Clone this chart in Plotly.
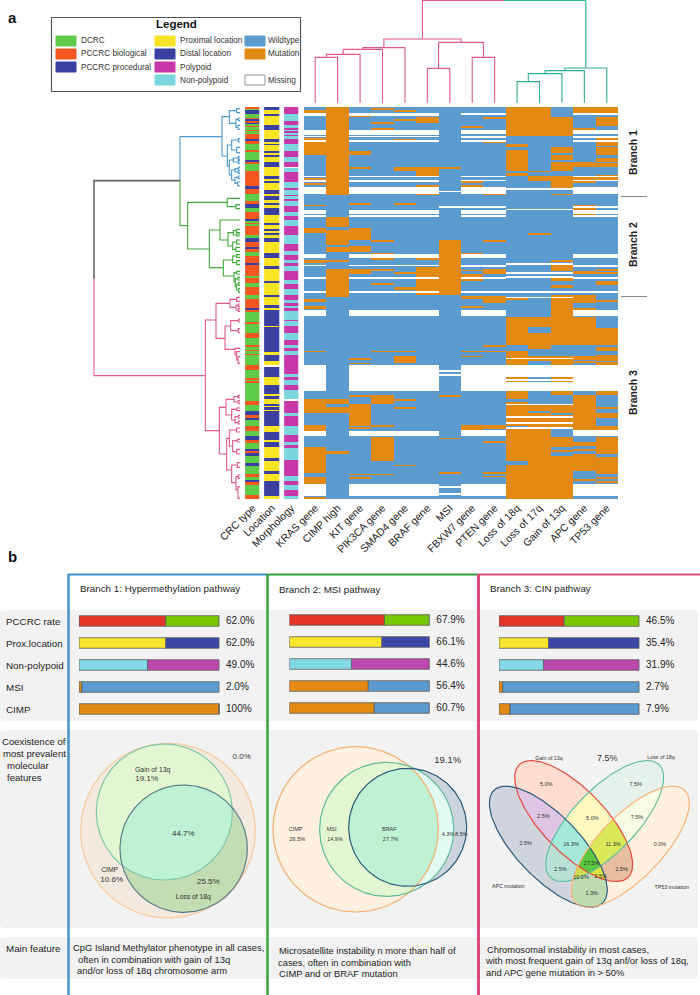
import numpy as np
import plotly.graph_objects as go

W, H = 700, 995
FONT = "Liberation Sans"
WILD, MUT = "#5B9BD0", "#E28A13"
GREEN_C, ORANGE_C, BLUE_C = "#5FCB4B", "#F2581F", "#3A3FA0"
YEL_C, MAG_C, CYAN_C = "#F8E324", "#C837A8", "#7CD6DE"

# ---------- panel a : case order positions (upper half, lower half) ----------
COLUMNS = ["KRAS gene", "CIMP high", "KIT gene", "PIK3CA gene", "SMAD4 gene", "BRAF gene", "MSI",
           "FBXW7 gene", "PTEN gene", "Loss of 18q", "Loss of 17q", "Gain of 13q", "APC gene", "TP53 gene"]
ANNOT_COLUMNS = ["CRC type", "Location", "Morphology"]
N_SLICES = 392

KRAS_UP = [(62,70),(146,150),(158,195),(264,270),(279,285),(345,348),(414,430),(510,520),(628,638),(650,658),(676,680)]
KRAS_LO = [(0,8),(20,28),(46,50),(153,158),(298,340),(377,393),(442,520),(533,553),(591,597)]
CIMP_UP = [(51,317),(383,413),(420,467),(473,488),(510,516),(538,622)]
CIMP_LO = [(298,312),(322,340),(453,463)]
KIT_UP = [(76,82),(183,195),(232,237),(340,345),(414,452),(468,488),(538,552)]
KIT_LO = [(175,180),(190,194),(287,291),(313,378),(382,388),(522,527),(533,538)]
PIK3CA_UP = [(56,61),(98,104),(114,120),(452,457),(490,510),(538,543),(580,585)]
PIK3CA_LO = [(153,158),(287,312),(377,382),(413,485),(522,527)]
SMAD4_UP = [(61,66),(87,93),(148,153),(232,243),(340,345),(548,553),(592,600)]
SMAD4_LO = [(153,158),(168,190),(298,303),(322,328),(495,500)]
BRAF_UP = [(82,99),(232,258),(287,291),(308,315),(505,510),(532,616)]
BRAF_LO = []
MSI_UP = [(232,237),(452,617)]
MSI_LO = [(287,291),(414,419),(517,522)]
FBXW7_UP = [(108,114),(275,281),(285,291),(490,493),(540,544),(553,574),(618,628),(650,654)]
FBXW7_LO = [(18,23),(153,158),(168,173),(377,392)]
PTEN_UP = [(82,88),(155,160),(312,317),(452,457),(538,553),(618,640)]
PTEN_LO = [(0,8),(137,143),(153,158),(377,387),(425,430),(517,522),(528,533)]
L18Q_UP = [(51,140),(162,173),(180,243),(250,258),(622,632),(683,690)]
L18Q_LO = [(52,137),(153,195),(232,237),(243,248),(275,298),(307,378),(383,485),(495,597)]
L17Q_UP = [(51,140),(243,248),(260,275),(430,435),(683,690)]
L17Q_LO = [(52,83),(100,148),(168,185),(317,335),(340,597)]
G13Q_UP = [(82,140),(173,190),(196,210),(216,243),(258,296),(312,317),(510,516),(527,543),(564,574),(585,596),(617,690)]
G13Q_LO = [(0,137),(168,195),(232,237),(243,248),(275,287),(317,340),(345,385),(413,442),(452,458),(468,597)]
APC_UP = [(51,71),(114,120),(216,232),(263,270),(275,281),(345,350),(354,362),(372,377),(543,552),(617,640),(654,660),(683,690)]
APC_LO = [(0,8),(24,29),(52,137),(168,180),(185,190),(287,392),(426,440),(448,454),(464,515),(538,543)]
TP53_UP = [(51,71),(82,108),(140,150),(155,168),(173,195),(205,216),(221,232),(255,258),(263,270),(538,543),(548,553),(574,585)]
TP53_LO = [(0,8),(84,137),(143,153),(165,185),(188,195),(275,287),(323,328),(340,356),(378,392),(413,462),(472,522),(533,538),(544,550)]

GAPS_A_UP = [(71,78),(120,135),(138,143),(150,157),(258,263),(272,278),(291,312),(362,372),(377,382),(493,505),(525,530),(562,569),(605,611),(660,678)]
GAPS_A_LO = [(30,46),(195,275),(393,410),(553,590)]
GAPS_B_UP = [(71,77),(120,133),(138,146),(152,158),(258,263),(270,275),(291,312),(350,355),(362,372),(377,382),(493,505),(527,533),(562,569),(605,611),(660,678)]
GAPS_B_LO = [(30,46),(195,275),(392,410),(553,590)]
GAPS_MSI_UP = [(303,308),(350,355)]
GAPS_MSI_LO = [(212,218),(222,228),(560,565),(580,585)]
GAPS_CHR_UP = [(296,300),(357,360),(521,525),(548,552),(558,565),(605,611),(622,625)]
GAPS_CHR_LO = [(174,178),(195,232),(237,243),(248,275),(312,317),(350,356),(367,373),(383,387)]
GAPS_NONE = []

CRC_UP = [(57,'O'),(62,'G'),(72,'B'),(84,'G'),(88,'O'),(94,'B'),(100,'O'),(104,'B'),(108,'G'),(113,'O'),(120,'G'),(124,'O'),(132,'G'),(148,'O'),(153,'B'),(163,'O'),(180,'G'),(186,'O'),(212,'G'),(218,'B'),(222,'O'),(243,'G'),(290,'O'),(298,'B'),(312,'O'),(334,'G'),(344,'O'),(356,'B'),(366,'G'),(388,'O'),(394,'B'),(400,'G'),(404,'O'),(410,'G'),(436,'O'),(446,'G'),(458,'B'),(473,'O'),(478,'B'),(488,'O'),(500,'G'),(520,'O'),(526,'B'),(558,'O'),(565,'G'),(580,'O'),(592,'G'),(615,'O'),(628,'G'),(630,'O')]
CRC_LO = [(24,'O'),(30,'B'),(36,'O'),(66,'G'),(72,'O'),(100,'G'),(115,'O'),(137,'G'),(142,'O'),(150,'G'),(154,'O'),(162,'G'),(166,'O'),(196,'G'),(210,'O'),(235,'G'),(240,'O'),(245,'G'),(250,'O'),(303,'G'),(317,'O'),(335,'G'),(345,'B'),(355,'O'),(360,'B'),(380,'G'),(395,'O'),(410,'G'),(420,'B'),(430,'O'),(448,'G'),(455,'B'),(460,'O'),(470,'B'),(490,'G'),(500,'B'),(522,'G'),(533,'O'),(540,'G'),(548,'B'),(555,'O'),(585,'G'),(597,'O')]
LOC_UP = [(62,'D'),(72,'Y'),(78,'D'),(105,'Y'),(122,'D'),(147,'Y'),(157,'D'),(162,'Y'),(167,'D'),(185,'Y'),(190,'D'),(195,'Y'),(202,'D'),(217,'Y'),(232,'D'),(260,'Y'),(268,'D'),(273,'Y'),(281,'D'),(302,'Y'),(312,'D'),(318,'Y'),(330,'D'),(340,'Y'),(345,'D'),(355,'Y'),(376,'D'),(400,'Y'),(406,'D'),(418,'Y'),(425,'D'),(430,'Y'),(436,'D'),(445,'Y'),(458,'D'),(490,'Y'),(505,'D'),(530,'Y'),(538,'D'),(573,'Y'),(580,'D'),(615,'Y'),(622,'D'),(630,'Y')]
LOC_LO = [(15,'Y'),(25,'D'),(30,'Y'),(78,'D'),(83,'Y'),(158,'D'),(165,'Y'),(185,'D'),(195,'Y'),(202,'W'),(232,'D'),(255,'Y'),(282,'D'),(290,'Y'),(297,'D'),(312,'Y'),(318,'D'),(322,'Y'),(330,'D'),(335,'Y'),(378,'D'),(398,'Y'),(420,'D'),(428,'Y'),(442,'D'),(475,'Y'),(485,'D'),(515,'Y'),(522,'D'),(545,'Y'),(590,'D'),(597,'Y')]
MORPH_UP = [(72,'M'),(93,'C'),(105,'M'),(115,'C'),(120,'M'),(125,'C'),(130,'M'),(135,'C'),(140,'M'),(148,'C'),(163,'M'),(185,'C'),(202,'M'),(217,'C'),(232,'M'),(236,'W'),(248,'C'),(276,'M'),(296,'C'),(302,'M'),(315,'C'),(320,'M'),(327,'C'),(335,'M'),(350,'C'),(366,'M'),(380,'C'),(390,'M'),(410,'C'),(435,'M'),(462,'C'),(485,'M'),(497,'C'),(510,'M'),(520,'C'),(530,'M'),(543,'C'),(570,'M'),(583,'C'),(598,'M'),(617,'C'),(630,'M')]
MORPH_LO = [(10,'C'),(20,'M'),(25,'C'),(35,'M'),(60,'C'),(65,'M'),(78,'C'),(100,'M'),(120,'C'),(135,'M'),(145,'C'),(155,'M'),(165,'C'),(222,'M'),(232,'C'),(240,'M'),(255,'C'),(270,'M'),(298,'C'),(303,'W'),(340,'M'),(350,'C'),(380,'M'),(405,'C'),(428,'M'),(435,'C'),(445,'M'),(480,'C'),(530,'M'),(545,'C'),(555,'M'),(570,'C'),(590,'M'),(597,'C')]

# dendrograms: (height, position, child, child); a plain number is a leaf at that position
LEFT_LEAF = 450
LEFT_ROOT_H, LEFT_MID_H = 12, 270
LEFT_MID_Y, LEFT_PINK_Y = 272, 857
LEFT_BLUE = (396,140,
  (418,80,(440,62,56,68),(438,100,(445,88,84,92),(444,112,106,118))),
  (412,198,(425,165,(445,150,146,156),(440,180,172,188)),
   (418,228,(430,210,(445,204,200,208),(445,216,212,220)),
    (425,255,(435,240,(445,236,232,240),(445,246,243,250)),(435,270,(445,262,258,266),(443,280,276,288))))))
LEFT_GREEN = (293,407,
  (412,337,325,(438,350,344,356)),
  (358,477,
   (390,420,390,(414,450,(430,428,(440,422,418,428),(440,435,432,438)),(428,468,(440,456,450,462),(438,478,472,484)))),
   (400,533,(428,510,(440,498,494,502),(440,518,512,524)),
    (432,558,(440,548,544,552),(436,575,(444,566,562,570),(440,590,(446,582,578,586),(446,600,595,607)))))))
LEFT_PINK = (346,857,
  (378,690,
   (420,640,(440,628,622,634),(438,652,(445,646,642,650),(445,660,656,664))),
   (405,745,(422,708,(446,692,688,696),(445,722,716,728)),(435,778,775,(440,795,785,(444,810,800,820))))),
  (388,1022,
   (408,952,(432,928,(445,920,916,924),(445,936,932,940)),(425,975,(440,958,954,962),(435,990,(445,980,976,984),(445,998,994,1002)))),
   (410,1092,(418,1045,(440,1020,1014,1026),(428,1068,(442,1052,1048,1056),(440,1085,1078,1092))),
    (425,1140,(442,1125,1118,1132),(438,1178,(445,1160,1155,1165),(444,1200,1190,1225))))))
TOP_BASE = 308
TOP_ROOT_H = 1
TOP_PINK = (117,(143,(148,(163,(172,0,1),2),3),4),(127,(205,5,6),(172,7,8)))
TOP_TEAL = (204,(212,(221,(245,9,10),11),12),13)

# ---------- panel b ----------
ROW_LABELS = ["PCCRC rate", "Prox.location", "Non-polypoid", "MSI", "CIMP"]
BRANCH1_VALUES = [62.0, 62.0, 49.0, 2.0, 100.0]
BRANCH2_VALUES = [67.9, 66.1, 44.6, 56.4, 60.7]
BRANCH3_VALUES = [46.5, 35.4, 31.9, 2.7, 7.9]
BRANCH1_TEXT = ["62.0%", "62.0%", "49.0%", "2.0%", "100%"]
BRANCH2_TEXT = ["67.9%", "66.1%", "44.6%", "56.4%", "60.7%"]
BRANCH3_TEXT = ["46.5%", "35.4%", "31.9%", "2.7%", "7.9%"]
BAR_LEFT_COLORS = ["#E5352A", "#F8E52E", "#82D8E4", MUT, MUT]
BAR_RIGHT_COLORS = ["#77C800", "#3B48A5", "#BC4AAE", WILD, WILD]

# Venn outlines: centre x, centre y, long radius, short radius, tilt in degrees, colour
V1_SETS = [(324,332,262,262,0,"#F8C99B"), (313,276,204,204,0,"#7FC8A9"), (371,386,191,191,0,"#5C7F8A")]
V2_SETS = [(257,328,248,248,0,"#F5AE6A"), (350,328,201,201,0,"#5FBB9C"), (413,322,177,177,0,"#2C5A78")]
V3_SETS = [(311,303,235,95,46,"#E8483F"), (404,303,235,95,-46,"#64BFA0"), (235,380,235,95,46,"#2F5C78"), (481,380,235,95,-46,"#FBB377")]
V1_FILLS = {1:"#F3E9DF", 2:"#E2F7D1", 3:"#E2F7D1", 4:"#C3DCB3", 5:"#C3DCB3", 6:"#BFF2D5", 7:"#BFF2D5"}
V2_FILLS = {1:"#FFF0E2", 2:"#E2FBF2", 3:"#E2F7D1", 4:"#CDD3DD", 5:"#CDD3DD", 6:"#E2FBF2", 7:"#BFF2D5"}
V3_FILLS = {1:"#FFDDD0", 2:"#E5F2EC", 3:"#FDF8BE", 4:"#D0D4DD", 5:"#DFC4E4", 6:"#B8E0D5", 7:"#A5EAD9",
            8:"#FFF0E0", 9:"#E5BFA0", 10:"#F9FCE5", 11:"#D9E95A", 12:"#BDDAB0", 13:"#D9E33F", 14:"#CFDC55", 15:"#5BC63F"}
V1_TEXT = [("Gain of 13q",278,152,6.8),("19.1%",260,178,8),("44.7%",370,342,8),("0.0%",545,112,8),("CIMP",149,452,6.8),
           ("10.6%",155,480,8),("25.5%",445,487,8),("Loss of 18q",400,533,6.8)]
V2_TEXT = [("CIMP",77,329,5.5),("26.5%",82,358,5.5),("MSI",185,328,5.5),("14.9%",195,358,5.5),("BRAF",358,328,5.5),("27.7%",362,358,5.5),
           ("4.3%",534,344,5.5),("8.5%",574,344,5.5),("19.1%",533,121,9.5)]
V3_TEXT = [("Gain of 13q",237,115,5.3),("7.5%",412,116,9),("Loss of 18q",573,112,5.3),("5.0%",229,195,5.5),("7.5%",497,193,5.5),("2.5%",220,291,5.5),
           ("5.0%",367,295,5.5),("7.5%",501,292,5.5),("2.5%",167,372,5.5),("16.3%",303,374,5.5),("11.3%",429,375,5.5),("0.0%",570,373,5.5),
           ("2.5%",271,449,5.5),("27.5%",365,432,5.5),("2.5%",455,449,5.5),("10.0%",333,474,5.5),("2.5%",392,470,5.5),("APC mutation",115,501,5.3),
           ("1.3%",365,522,5.5),("TP53 mutation",605,502,5.3)]

# ---------- helpers ----------
fig = go.Figure()
layout_axes = {}
annotations = []
shapes = []
_ax = [0]

def fx(px): return px / W
def fy(py): return 1 - py / H

def new_axes(x0, x1, y0, y1, xr, yr, xopts=None, yopts=None):
    _ax[0] += 1
    n = _ax[0]
    sx = "" if n == 1 else str(n)
    xa = dict(domain=[fx(x0), fx(x1)], range=xr, visible=False, fixedrange=True, anchor=f"y{sx}", showgrid=False, zeroline=False)
    ya = dict(domain=[fy(y1), fy(y0)], range=yr, visible=False, fixedrange=True, anchor=f"x{sx}", showgrid=False, zeroline=False)
    xa.update(xopts or {})
    ya.update(yopts or {})
    layout_axes[f"xaxis{sx}"] = xa
    layout_axes[f"yaxis{sx}"] = ya
    return f"x{sx}", f"y{sx}"

def note(px, py, text, size=9.5, anchor="left", color="#222", angle=0, bold=False):
    annotations.append(dict(xref="paper", yref="paper", x=fx(px), y=fy(py), text=f"<b>{text}</b>" if bold else text,
                            showarrow=False, xanchor=anchor, yanchor="middle", borderpad=0, textangle=angle,
                            font=dict(family=FONT, size=size, color=color)))

def box(x0, y0, x1, y1, fill=None, line=None, lw=1, layer="below"):
    shapes.append(dict(type="rect", xref="paper", yref="paper", x0=fx(x0), x1=fx(x1), y0=fy(y0), y1=fy(y1),
                       fillcolor=fill or "rgba(0,0,0,0)", line=dict(color=line or "rgba(0,0,0,0)", width=lw), layer=layer))

def rule(x0, y0, x1, y1, color, lw=1, layer="above"):
    shapes.append(dict(type="line", xref="paper", yref="paper", x0=fx(x0), x1=fx(x1), y0=fy(y0), y1=fy(y1),
                       line=dict(color=color, width=lw), layer=layer))

def rounded(x0, y0, x1, y1, r, fill):
    a, b, c, d = x0, x1, y0, y1
    p = (f"M {fx(a+r)} {fy(c)} L {fx(b-r)} {fy(c)} Q {fx(b)} {fy(c)} {fx(b)} {fy(c+r)} L {fx(b)} {fy(d-r)} "
         f"Q {fx(b)} {fy(d)} {fx(b-r)} {fy(d)} L {fx(a+r)} {fy(d)} Q {fx(a)} {fy(d)} {fx(a)} {fy(d-r)} "
         f"L {fx(a)} {fy(c+r)} Q {fx(a)} {fy(c)} {fx(a+r)} {fy(c)} Z")
    shapes.append(dict(type="path", xref="paper", yref="paper", path=p, fillcolor=fill, line=dict(width=0), layer="below"))

def slice_range(a, b):
    return (a - 51) // 3, max((b - 51) // 3, (a - 51) // 3 + 1)

def mark(col, ivs, off, val):
    for a, b in ivs:
        s, e = slice_range(a + off, b + off)
        col[max(s, 0):e] = val

def gene_column(up, lo, gaps_up, gaps_lo):
    col = np.full(N_SLICES, 0.25)
    mark(col, up, 0, 0.75)
    mark(col, lo, 630, 0.75)
    mark(col, gaps_up, 0, np.nan)
    mark(col, gaps_lo, 630, np.nan)
    return col

def annot_column(up, lo, codes):
    col = np.full(N_SLICES, np.nan)
    for runs, off, start in ((up, 0, 51), (lo, 630, 0)):
        prev = start
        for end, c in runs:
            s, e = slice_range(prev + off, end + off)
            col[max(s, 0):e] = codes[c]
            prev = end
    return col

def stepped(colors):
    n = len(colors)
    out = []
    for i, c in enumerate(colors):
        out += [[i / n, c], [(i + 1) / n, c]]
    return out

# ---------- background panels ----------
PANEL = "#F2F2F2"
rounded(0, 610, 698, 721, 4, PANEL)
rounded(0, 730, 698, 928, 4, PANEL)
rounded(0, 937, 698, 979, 4, PANEL)

# ---------- annotation strips ----------
CODES_CRC = {'G': 0.5, 'O': 1.5, 'B': 2.5, 'Y': 3.5, 'D': 2.5, 'M': 4.5, 'C': 5.5, 'W': np.nan}
ANNOT_SCALE = stepped([GREEN_C, ORANGE_C, BLUE_C, YEL_C, MAG_C, CYAN_C])
xa, ya = new_axes(243.1, 300.9, 107, 499, [-0.5, 2.5], [N_SLICES - 0.5, -0.5],
                  dict(visible=True, showline=False, ticks="", tickmode="array", tickvals=[0, 1, 2], ticktext=ANNOT_COLUMNS,
                       tickangle=-45, tickfont=dict(family=FONT, size=10.5, color="#222")))
z_annot = np.column_stack([annot_column(CRC_UP, CRC_LO, CODES_CRC), annot_column(LOC_UP, LOC_LO, CODES_CRC),
                           annot_column(MORPH_UP, MORPH_LO, CODES_CRC)])
fig.add_trace(go.Heatmap(z=z_annot, x=[0, 1, 2], y=np.arange(N_SLICES), xaxis=xa, yaxis=ya, zmin=0, zmax=6, colorscale=ANNOT_SCALE,
                         showscale=False, hoverinfo="skip", xgap=4.8))

# ---------- mutation matrix ----------
MAT_X0, MAT_X1 = 304, 618
xm, ym = new_axes(MAT_X0, MAT_X1, 107, 499, [-0.5, 13.5], [N_SLICES - 0.5, -0.5],
                  dict(visible=True, showline=False, ticks="", tickmode="array", tickvals=list(range(14)), ticktext=COLUMNS,
                       tickangle=-45, tickfont=dict(family=FONT, size=10.5, color="#222")))
z_mat = np.column_stack([
    gene_column(KRAS_UP, KRAS_LO, GAPS_A_UP, GAPS_A_LO),
    gene_column(CIMP_UP, CIMP_LO, GAPS_NONE, GAPS_NONE),
    gene_column(KIT_UP, KIT_LO, GAPS_A_UP, GAPS_A_LO),
    gene_column(PIK3CA_UP, PIK3CA_LO, GAPS_A_UP, GAPS_A_LO),
    gene_column(SMAD4_UP, SMAD4_LO, GAPS_A_UP, GAPS_A_LO),
    gene_column(BRAF_UP, BRAF_LO, GAPS_A_UP, GAPS_A_LO),
    gene_column(MSI_UP, MSI_LO, GAPS_MSI_UP, GAPS_MSI_LO),
    gene_column(FBXW7_UP, FBXW7_LO, GAPS_B_UP, GAPS_B_LO),
    gene_column(PTEN_UP, PTEN_LO, GAPS_B_UP, GAPS_B_LO),
    gene_column(L18Q_UP, L18Q_LO, GAPS_CHR_UP, GAPS_CHR_LO),
    gene_column(L17Q_UP, L17Q_LO, GAPS_CHR_UP, GAPS_CHR_LO),
    gene_column(G13Q_UP, G13Q_LO, GAPS_CHR_UP, GAPS_CHR_LO),
    gene_column(APC_UP, APC_LO, GAPS_B_UP, GAPS_B_LO),
    gene_column(TP53_UP, TP53_LO, GAPS_B_UP, GAPS_B_LO),
])
fig.add_trace(go.Heatmap(z=z_mat, x=list(range(14)), y=np.arange(N_SLICES), xaxis=xm, yaxis=ym, zmin=0, zmax=1,
                         colorscale=stepped([WILD, MUT]), showscale=False, hoverinfo="skip"))

# ---------- left dendrogram ----------
xl, yl = new_axes(90, 250, 90, 530, [0, 480], [1320, 0])

def left_segments(node, xs, ys):
    if not isinstance(node, tuple):
        return LEFT_LEAF, node
    h, y, a, b = node
    ca = left_segments(a, xs, ys)
    cb = left_segments(b, xs, ys)
    xs += [ca[0], h, h, cb[0], None]
    ys += [ca[1], ca[1], cb[1], cb[1], None]
    return h, y

def line_trace(xs, ys, color, xaxis, yaxis, width=1.1):
    fig.add_trace(go.Scatter(x=xs, y=ys, mode="lines", line=dict(color=color, width=width), xaxis=xaxis, yaxis=yaxis,
                             hoverinfo="skip", connectgaps=False))

C_BLUE, C_GREEN, C_PINK, C_GREY = "#4A97CF", "#3FA93A", "#DD5A85", "#666666"
for tree, col in ((LEFT_BLUE, C_BLUE), (LEFT_GREEN, C_GREEN), (LEFT_PINK, C_PINK)):
    xs, ys = [], []
    h, y = left_segments(tree, xs, ys)
    if tree is LEFT_PINK:
        xs += [LEFT_ROOT_H, h, None, LEFT_ROOT_H, LEFT_ROOT_H]
        ys += [y, y, None, y, (LEFT_MID_Y + LEFT_PINK_Y) / 2]
    else:
        xs += [LEFT_MID_H, h, None, LEFT_MID_H, LEFT_MID_H]
        ys += [y, y, None, y, LEFT_MID_Y]
    line_trace(xs, ys, col, xl, yl)
line_trace([LEFT_MID_H, LEFT_ROOT_H, LEFT_ROOT_H], [LEFT_MID_Y, LEFT_MID_Y, (LEFT_MID_Y + LEFT_PINK_Y) / 2], C_GREY, xl, yl, 1.6)

# ---------- top dendrogram ----------
xt, yt = new_axes(MAT_X0, MAT_X1, 0, 110, [-0.5, 13.5], [330, 0])

def top_segments(node, xs, ys):
    if not isinstance(node, tuple):
        return float(node), TOP_BASE
    h, a, b = node
    xa_, ya_ = top_segments(a, xs, ys)
    xb_, yb_ = top_segments(b, xs, ys)
    xs += [xa_, xa_, xb_, xb_, None]
    ys += [ya_, h, h, yb_, None]
    return (xa_ + xb_) / 2, h

C_TEAL = "#2FAE92"
xs, ys = [], []
xp, hp = top_segments(TOP_PINK, xs, ys)
xs2, ys2 = [], []
xq, hq = top_segments(TOP_TEAL, xs2, ys2)
xmid = (xp + xq) / 2
xs += [xp, xp, xmid]
ys += [hp, TOP_ROOT_H, TOP_ROOT_H]
xs2 += [xq, xq, xmid]
ys2 += [hq, TOP_ROOT_H, TOP_ROOT_H]
line_trace(xs, ys, C_PINK, xt, yt)
line_trace(xs2, ys2, C_TEAL, xt, yt)

# ---------- bars ----------
def bar_panel(x0, y0, values, texts):
    x, y = new_axes(x0, x0 + 183, y0, y0 + 110, [0, 130.7], [4.5, -0.5])
    rows = list(range(5))
    rest = [100 - v for v in values]
    fig.add_trace(go.Bar(x=values, y=rows, orientation="h", width=0.48, marker=dict(color=BAR_LEFT_COLORS, line=dict(color="#5c5c5c", width=0.8)),
                         xaxis=x, yaxis=y, hoverinfo="skip", base=0))
    fig.add_trace(go.Bar(x=rest, y=rows, orientation="h", width=0.48, marker=dict(color=BAR_RIGHT_COLORS, line=dict(color="#5c5c5c", width=0.8)),
                         xaxis=x, yaxis=y, hoverinfo="skip", base=values))
    fig.add_trace(go.Scatter(x=[105] * 5, y=rows, mode="text", text=texts, textposition="middle right",
                             textfont=dict(family=FONT, size=10, color="#222"), xaxis=x, yaxis=y, hoverinfo="skip"))

bar_panel(79, 610, BRANCH1_VALUES, BRANCH1_TEXT)
bar_panel(289.3, 609, BRANCH2_VALUES, BRANCH2_TEXT)
bar_panel(499, 610, BRANCH3_VALUES, BRANCH3_TEXT)
ROW_Y = [621, 643, 665.5, 687.5, 709.5]
for label, py in zip(ROW_LABELS, ROW_Y):
    note(5, py, label, 9.8)

# ---------- Venn diagrams ----------
def inside(gx, gy, s):
    cx, cy, a, b, tilt, _ = s
    t = np.radians(tilt)
    dx, dy = gx - cx, gy - cy
    u = dx * np.cos(t) + dy * np.sin(t)
    v = -dx * np.sin(t) + dy * np.cos(t)
    return (u / a) ** 2 + (v / b) ** 2 <= 1

def venn(px0, py0, size_w, size_h, sets, fills, labels):
    x, y = new_axes(px0, px0 + size_w, py0, py0 + size_h, [0, size_w * 3], [size_h * 3, 0])
    gx = np.arange(1.5, size_w * 3, 3.0)
    gy = np.arange(1.5, size_h * 3, 3.0)
    mx, my = np.meshgrid(gx, gy)
    code = np.zeros_like(mx, dtype=int)
    for i, s in enumerate(sets):
        code += inside(mx, my, s).astype(int) << i
    keys = sorted(fills)
    pos = {k: i for i, k in enumerate(keys)}
    z = np.full(code.shape, np.nan)
    for k in keys:
        z[code == k] = pos[k] + 0.5
    fig.add_trace(go.Heatmap(z=z, x=gx, y=gy, xaxis=x, yaxis=y, zmin=0, zmax=len(keys),
                             colorscale=stepped([fills[k] for k in keys]), showscale=False, hoverinfo="skip"))
    ang = np.radians(np.arange(0, 361, 2))
    for cx, cy, a, b, tilt, col in sets:
        t = np.radians(tilt)
        ex = cx + a * np.cos(ang) * np.cos(t) - b * np.sin(ang) * np.sin(t)
        ey = cy + a * np.cos(ang) * np.sin(t) + b * np.sin(ang) * np.cos(t)
        fig.add_trace(go.Scatter(x=ex, y=ey, mode="lines", line=dict(color=col, width=1.2), xaxis=x, yaxis=y, hoverinfo="skip"))
    for size in sorted({l[3] for l in labels}):
        sub = [l for l in labels if l[3] == size]
        fig.add_trace(go.Scatter(x=[l[1] for l in sub], y=[l[2] for l in sub], text=[l[0] for l in sub], mode="text",
                                 textposition="middle center", textfont=dict(family=FONT, size=size, color="#333"),
                                 xaxis=x, yaxis=y, hoverinfo="skip"))

venn(60, 720, 210, 210, V1_SETS, V1_FILLS, V1_TEXT)
venn(270, 720, 210, 210, V2_SETS, V2_FILLS, V2_TEXT)
venn(470, 720, 230, 190, V3_SETS, V3_FILLS, V3_TEXT)

# ---------- frames ----------
for x0, x1, col in ((68.5, 267.5, "#3F8FCB"), (267.5, 478.5, "#2FA23A"), (478.5, 700, "#D94C7A")):
    rule(x0, 574.5, x1, 574.5, col, 2.2)
for x0, col, lw in ((68.5, "#3F8FCB", 2.4), (267.5, "#2FA23A", 2.4), (478.5, "#D94C7A", 3)):
    rule(x0, 574, x0, 995, col, lw)

# ---------- text ----------
note(7, 17, "a", 15, bold=True, color="#111")
note(7, 556, "b", 15, bold=True, color="#111")
note(79, 588, "Branch 1: Hypermethylation pathway", 9.8)
note(278, 589, "Branch 2: MSI pathway", 9.8)
note(489, 588, "Branch 3: CIN pathway", 9.8)
for txt, px, py in (("Coexistence of", 1, 741), ("most prevalent", 1.5, 753), ("molecular", 6, 765), ("features", 5.5, 777)):
    note(px, py, txt, 9.6)
note(5, 948, "Main feature", 9.8)
for txt, px, py in (("CpG Island Methylator phenotype in all cases,", 72, 947.5),
                    ("often in combination with gain of 13q", 77, 959),
                    ("and/or loss of 18q chromosome arm", 76, 970),
                    ("Microsatellite instability n more than half of", 278, 950),
                    ("cases, often in combination with", 277, 962),
                    ("CIMP and or BRAF mutation", 278, 973),
                    ("Chromosomal instability in most cases,", 486, 949),
                    ("with most frequent gain of 13q anf/or loss of 18q,", 484, 960),
                    ("and APC gene mutation in > 50%", 485, 972)):
    note(px, py, txt, 9.4)
for txt, py in (("Branch 1", 153), ("Branch 2", 245), ("Branch 3", 393)):
    note(633, py, txt, 10.5, anchor="center", angle=-90, bold=True, color="#222")
rule(621, 196.5, 647, 196.5, "#888888", 1)
rule(621, 296.5, 647, 296.5, "#888888", 1)

# legend
box(51.5, 17.5, 300.5, 91.5, fill="white", line="#555555", lw=1.2)
note(176, 24, "Legend", 11.5, anchor="center", bold=True, color="#111")
for sx, tx, rows_ in (
    (56, 79.5, [(36, GREEN_C, "DCRC"), (49, ORANGE_C, "PCCRC biological"), (62, BLUE_C, "PCCRC procedural")]),
    (155, 178.7, [(36, YEL_C, "Proximal location"), (49, BLUE_C, "Distal location"), (62, MAG_C, "Polypoid"), (75, CYAN_C, "Non-polypoid")]),
    (245, 267, [(36, WILD, "Wildtype"), (49, MUT, "Mutation"), (75, "white", "Missing")]),
):
    for py, col, label in rows_:
        box(sx, py, sx + 20, py + 10, fill=col, line="#999999" if col == "white" else col, lw=1, layer="above")
        note(tx, py + 5, label, 8.2, color="#333")

fig.update_layout(width=W, height=H, margin=dict(l=0, r=0, t=0, b=0, autoexpand=False), paper_bgcolor="white", plot_bgcolor="rgba(0,0,0,0)",
                  showlegend=False, barmode="overlay", annotations=annotations, shapes=shapes, autosize=False, **layout_axes)
fig.write_html("out.html", post_script="document.body.style.margin='0';", config=dict(displayModeBar=False))
